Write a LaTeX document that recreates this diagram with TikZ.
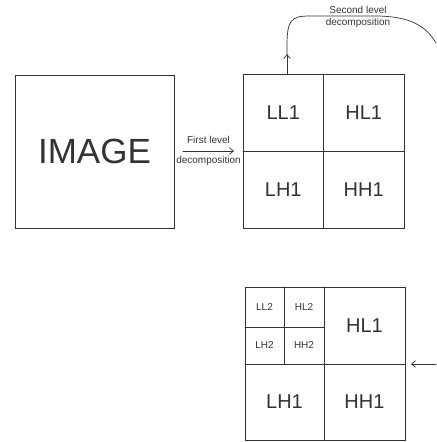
\documentclass[tikz,border=0pt]{standalone}
\usepackage{fontspec}
\setmainfont{Liberation Sans}
\usetikzlibrary{arrows.meta}
\definecolor{ink}{HTML}{333333}

\begin{document}
\begin{tikzpicture}[>={Straight Barb[length=4pt,width=6.5pt]},line cap=round,
  box/.style={draw=ink,line width=0.8pt},
  big/.style={text=ink,inner sep=0pt,font=\fontsize{20}{20}\selectfont},
  small/.style={text=ink,inner sep=0pt,font=\fontsize{10}{10}\selectfont},
  note/.style={text=ink,font=\fontsize{10}{10}\selectfont,inner sep=0pt},
  link/.style={draw=ink,line width=0.7pt}]
\path (0pt,0pt) rectangle (436pt,442pt);
% input
\draw[box] (15pt,214pt) rectangle (174pt,367pt);
\node[text=ink,inner sep=0pt,font=\fontsize{35}{35}\selectfont] (img) at (94.5pt,290.5pt) {IMAGE};
% first level
\draw[box] (243pt,214pt) rectangle (404pt,368pt);
\draw[box] (323.5pt,214pt) -- (323.5pt,368pt);
\draw[box] (243pt,291pt) -- (404pt,291pt);
\node[big] (ll1) at (283.25pt,329.5pt) {LL1};
\node[big] (hl1) at (363.75pt,329.5pt) {HL1};
\node[big] (lh1) at (283.25pt,252.5pt) {LH1};
\node[big] (hh1) at (363.75pt,252.5pt) {HH1};
% second level
\draw[box] (245pt,2pt) rectangle (405pt,155pt);
\draw[box] (324pt,2pt) -- (324pt,155pt);
\draw[box] (245pt,78pt) -- (405pt,78pt);
\draw[box] (284pt,78pt) -- (284pt,155pt);
\draw[box] (245pt,115pt) -- (324pt,115pt);
\node[small] (ll2) at (264.5pt,135pt) {LL2};
\node[small] (hl2) at (304pt,135pt) {HL2};
\node[small] (lh2) at (264.5pt,96.5pt) {LH2};
\node[small] (hh2) at (304pt,96.5pt) {HH2};
\node[big] (hl1b) at (364.5pt,116.5pt) {HL1};
\node[big] (lh1b) at (284.5pt,40pt) {LH1};
\node[big] (hh1b) at (364.5pt,40pt) {HH1};
% connectors
\coordinate (imgE) at (174pt,291pt);
\coordinate (lvlW) at (243pt,291pt);
\coordinate (lvlN) at (287pt,368pt);
\coordinate (lowE) at (405pt,78pt);
\coordinate (in) at (436pt,78pt);
\draw[link,->,shorten <=9pt,shorten >=9pt] (imgE) -- (lvlW)
  node[note,midway,above=7pt] (first) {First level}
  node[note,midway,below=5pt] (dec1) {decomposition};
\draw[link,->] (lvlN) -- ++(0pt,20pt) coordinate (tip);
\draw[link] (tip) -- ++(0pt,8pt) .. controls +(0pt,26pt) and (291pt,426pt) .. (310pt,426pt) -- (375pt,426pt)
  .. controls (410pt,426pt) and (426pt,416pt) .. (436pt,399pt);
\node[note,above=2pt] (second) at (358pt,426pt) {Second level};
\node[note,below=2pt] (dec2) at (358pt,426pt) {decomposition};
\draw[link,->,shorten >=6pt] (in) -- (lowE);
\end{tikzpicture}
\end{document}
